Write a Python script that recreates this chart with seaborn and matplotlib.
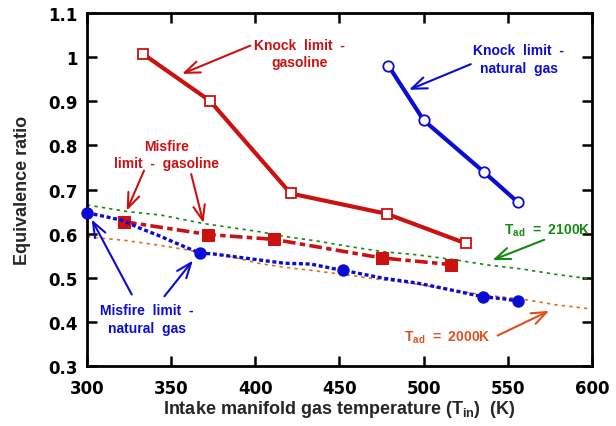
import numpy as np
import pandas as pd
import seaborn as sns
import matplotlib as mpl
import matplotlib.pyplot as plt

# knock limits (open markers, solid lines)
knock_gas_T = [333, 373, 421, 478, 525]
knock_gas_phi = [1.008, 0.901, 0.691, 0.645, 0.578]
knock_ng_T = [479, 500, 536, 556]
knock_ng_phi = [0.981, 0.857, 0.739, 0.671]

# misfire limits (filled markers)
misfire_gas_T = [322, 372, 411, 475, 516]
misfire_gas_phi = [0.627, 0.598, 0.587, 0.545, 0.530]
misfire_ng_T = [300, 367, 452, 535, 556]
misfire_ng_phi = [0.647, 0.556, 0.517, 0.457, 0.447]
# dotted curve through the natural gas misfire points
misfire_ng_curve_T = [300, 308, 321, 331, 343, 355, 367, 375, 397, 417, 433, 446, 452,
                      476, 496, 504, 518, 535, 548, 556]
misfire_ng_curve_phi = [0.647, 0.641, 0.630, 0.613, 0.595, 0.575, 0.556, 0.554, 0.543,
                        0.533, 0.531, 0.521, 0.517, 0.499, 0.488, 0.482, 0.471, 0.457,
                        0.452, 0.447]

# constant adiabatic flame temperature lines
tad2100_T = [300, 324, 344, 369, 403, 417, 437, 457, 476, 496, 518, 538, 558, 578, 600]
tad2100_phi = [0.665, 0.650, 0.642, 0.623, 0.604, 0.594, 0.583, 0.570, 0.559, 0.552,
               0.541, 0.529, 0.520, 0.508, 0.497]
tad2000_T = [300, 324, 344, 363, 383, 403, 417, 437, 457, 476, 496, 518, 538, 558, 578, 600]
tad2000_phi = [0.593, 0.584, 0.573, 0.561, 0.550, 0.532, 0.524, 0.515, 0.505, 0.495,
               0.486, 0.471, 0.460, 0.452, 0.439, 0.429]

xticks = [300, 350, 400, 450, 500, 550, 600]
yticks = [0.3, 0.4, 0.5, 0.6, 0.7, 0.8, 0.9, 1.0, 1.1]
ytick_labels = ['0.3', '0.4', '0.5', '0.6', '0.7', '0.8', '0.9', '1', '1.1']

RED = '#cc1111'
BLUE = '#0b0bd6'
GREEN = '#138a13'
ORANGE = '#d8731f'
ORANGE_TXT = '#e0501e'

sns.set_theme(style='ticks')
plt.rcParams['font.family'] = ['Liberation Sans', 'DejaVu Sans']
plt.rcParams['font.weight'] = 'bold'
plt.rcParams['mathtext.fontset'] = 'custom'
plt.rcParams['mathtext.rm'] = 'Liberation Sans:bold'
plt.rcParams['mathtext.it'] = 'Liberation Sans:bold'
plt.rcParams['mathtext.bf'] = 'Liberation Sans:bold'

fig = plt.figure(figsize=(6.16, 4.27), dpi=100)
ax = fig.add_axes([0.1412, 0.1405, 0.8198, 0.8267])

# Tad reference curves
sns.lineplot(x=tad2100_T, y=tad2100_phi, ax=ax, color=GREEN, lw=1.2,
             linestyle=(0, (2, 2.5)), sort=False, estimator=None)
sns.lineplot(x=tad2000_T, y=tad2000_phi, ax=ax, color=ORANGE, lw=1.2,
             linestyle=(0, (2, 2.5)), sort=False, estimator=None)

# knock limits
sns.lineplot(x=knock_gas_T, y=knock_gas_phi, ax=ax, color=RED, lw=3,
             marker='s', markersize=7, markerfacecolor='white',
             markeredgecolor=RED, markeredgewidth=1.3, sort=False, estimator=None)
sns.lineplot(x=knock_ng_T, y=knock_ng_phi, ax=ax, color=BLUE, lw=3,
             marker='o', markersize=7.5, markerfacecolor='white',
             markeredgecolor=BLUE, markeredgewidth=1.3, sort=False, estimator=None)

# misfire limits
sns.lineplot(x=misfire_gas_T, y=misfire_gas_phi, ax=ax, color=RED, lw=2.6,
             linestyle=(0, (3.5, 1.2, 1.5, 1.2)), marker='s', markersize=9,
             markeredgecolor=RED, sort=False, estimator=None)
sns.lineplot(x=misfire_ng_curve_T, y=misfire_ng_curve_phi, ax=ax, color=BLUE, lw=2.4,
             linestyle=(0, (1.2, 0.8)), sort=False, estimator=None)
sns.scatterplot(x=misfire_ng_T, y=misfire_ng_phi, ax=ax, color=BLUE, s=80,
                edgecolor=BLUE, linewidth=0, zorder=5, clip_on=False)

ax.set_xlim(300, 600)
ax.set_ylim(0.3, 1.1)
ax.set_xticks(xticks)
ax.set_yticks(yticks)
ax.set_yticklabels(ytick_labels)
for lab in ax.get_xticklabels() + ax.get_yticklabels():
    lab.set_fontfamily('DejaVu Sans')
    lab.set_fontweight('bold')
ax.tick_params(direction='in', length=7.5, width=1.8, top=True, right=True,
               labelsize=12, colors='black', pad=7)
ax.tick_params(axis='x', pad=9)
for sp in ax.spines.values():
    sp.set_linewidth(2)
    sp.set_color('black')

ax.set_xlabel('Intake manifold gas temperature (T$_\\mathregular{in}$)  (K)',
              fontsize=13, fontweight='bold', labelpad=1)
ax.set_ylabel('Equivalence ratio', fontsize=13, fontweight='bold', labelpad=12)

def note(text, xy, color):
    ax.text(xy[0], xy[1], text, color=color, fontsize=10, fontweight='bold',
            ha='center', va='center', multialignment='center', linespacing=1.3)

def arrow(tail, head, color):
    ax.annotate('', xy=head, xytext=tail,
                arrowprops=dict(arrowstyle='->,head_length=0.9,head_width=0.35',
                                color=color, lw=1.5, shrinkA=0, shrinkB=0))

note('Knock  limit  -\ngasoline', (426, 1.009), RED)
arrow((397, 1.026), (356.5, 0.962), RED)

note('Knock  limit  -\nnatural  gas', (556.5, 0.996), BLUE)
arrow((528, 0.984), (491.3, 0.926), BLUE)

note('Misfire\nlimit  -  gasoline', (347, 0.779), RED)
arrow((333.9, 0.743), (323.6, 0.652), RED)
arrow((361.9, 0.735), (369.2, 0.624), RED)

note('Misfire  limit  -\nnatural  gas', (335.7, 0.4065), BLUE)
arrow((326.6, 0.462), (302.8, 0.632), BLUE)
arrow((346, 0.458), (362.9, 0.539), BLUE)

ax.text(547.8, 0.599, 'T$_\\mathregular{ad}$  =  2100K', color=GREEN, fontsize=10,
        fontweight='bold', ha='left', va='baseline')
arrow((571.6, 0.586), (540.9, 0.540), GREEN)

ax.text(488.1, 0.358, 'T$_\\mathregular{ad}$  =  2000K', color=ORANGE_TXT, fontsize=10,
        fontweight='bold', ha='left', va='baseline')
arrow((543.9, 0.369), (574.6, 0.425), ORANGE_TXT)

fig.savefig('out.png', dpi=100)
